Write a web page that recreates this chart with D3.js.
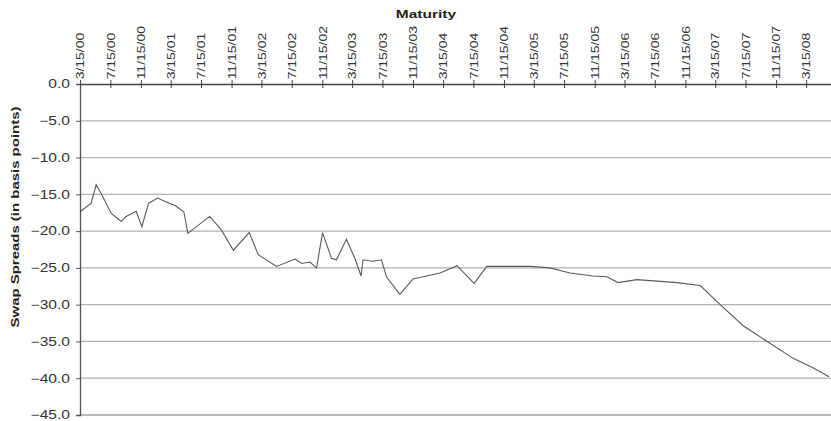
<!DOCTYPE html>
<html><head><meta charset="utf-8">
<script src="https://cdn.jsdelivr.net/npm/d3@7"></script>
<style>body{margin:0;background:#fff;} svg{display:block;font-family:Arial,"Liberation Sans",sans-serif;}</style>
</head><body>
<svg id="c" width="831" height="421"></svg>
<script>
const tickLabels = ["3/15/00","7/15/00","11/15/00","3/15/01","7/15/01","11/15/01","3/15/02","7/15/02","11/15/02","3/15/03","7/15/03","11/15/03","3/15/04","7/15/04","11/15/04","3/15/05","7/15/05","11/15/05","3/15/06","7/15/06","11/15/06","3/15/07","7/15/07","11/15/07","3/15/08"];
const yTicks = [0,-5,-10,-15,-20,-25,-30,-35,-40,-45];
const dates = ["2000-03-18","2000-04-29","2000-05-19","2000-06-08","2000-07-19","2000-08-28","2000-09-16","2000-10-27","2000-11-19","2000-12-16","2001-01-22","2001-02-16","2001-04-05","2001-05-07","2001-05-23","2001-08-19","2001-10-04","2001-11-22","2002-01-25","2002-03-02","2002-05-15","2002-07-28","2002-08-24","2002-09-26","2002-10-23","2002-11-16","2002-12-22","2003-01-11","2003-02-20","2003-03-26","2003-04-20","2003-04-28","2003-06-07","2003-07-11","2003-07-31","2003-09-23","2003-11-15","2004-03-03","2004-05-10","2004-07-18","2004-09-07","2004-10-17","2005-02-28","2005-05-19","2005-08-08","2005-11-08","2006-01-03","2006-02-17","2006-05-04","2006-10-12","2007-01-14","2007-04-04","2007-07-07","2007-10-15","2008-01-23","2008-04-13","2008-06-15"];
const spreads = [-17.3,-16.2,-13.7,-14.9,-17.6,-18.7,-18.0,-17.3,-19.4,-16.2,-15.5,-15.9,-16.6,-17.4,-20.3,-18.0,-19.8,-22.6,-20.2,-23.2,-24.8,-23.8,-24.4,-24.2,-25.0,-20.2,-23.7,-23.9,-21.1,-23.7,-26.1,-23.9,-24.1,-23.9,-26.2,-28.6,-26.5,-25.7,-24.7,-27.1,-24.8,-24.8,-24.8,-25.0,-25.7,-26.1,-26.2,-27.0,-26.6,-27.0,-27.4,-30.0,-32.9,-35.1,-37.3,-38.6,-39.8];

const parseIso = d3.timeParse("%Y-%m-%d");
const parseTick = d3.timeParse("%m/%d/%y");
const fmtTick = d3.timeFormat("%-m/%d/%y");
const data = dates.map((d,i)=>({date:parseIso(d), v:spreads[i]}));
const tickDates = tickLabels.map(parseTick);

const svg = d3.select("#c");
const L = 80, R = 831, T = 84, B = 415;
const x = d3.scaleTime().domain([parseTick("3/15/00"), parseIso("2008-06-23")]).range([L, R]);
const y = d3.scaleLinear().domain([0,-45]).range([T, B]);

// gridlines
svg.append("g").selectAll("line").data(yTicks.filter(t=>t!==0)).join("line")
  .attr("x1", L).attr("x2", R).attr("y1", d=>y(d)).attr("y2", d=>y(d))
  .attr("stroke", d=> d===-45 ? "#777" : "#b0b0b0").attr("stroke-width", 1.2);

// y axis
const ya = svg.append("g").attr("transform", `translate(${L},0)`)
  .call(d3.axisLeft(y).tickValues(yTicks).tickSize(4).tickFormat(""));
ya.select(".domain").attr("stroke","#555").attr("stroke-width",1.3);
ya.selectAll(".tick line").attr("stroke","#555");
svg.append("g").selectAll("text").data(yTicks).join("text")
  .attr("transform", d=>`translate(70,${y(d)}) scale(1.3,1)`)
  .attr("text-anchor","end").attr("dy","0.36em")
  .attr("font-size","12px").attr("fill","#333")
  .text(d=>d3.format(".1f")(d));

// x axis top
const xa = svg.append("g").attr("transform", `translate(0,${T})`)
  .call(d3.axisTop(x).tickValues(tickDates).tickSizeInner(4).tickSizeOuter(0).tickFormat(fmtTick));
xa.select(".domain").attr("stroke","#444").attr("stroke-width",1.3);
xa.selectAll(".tick line").attr("y2", 4).attr("y1",-4).attr("stroke","#444");
xa.selectAll(".tick text")
  .attr("transform","rotate(-90) scale(1.33,1)")
  .attr("x", 3.5).attr("y", 0).attr("dy","0.36em")
  .attr("text-anchor","start").attr("font-size","10.5px").attr("fill","#333");

// line
svg.append("path").datum(data)
  .attr("fill","none").attr("stroke","#5a5a5a").attr("stroke-width",1.1)
  .attr("d", d3.line().x(d=>x(d.date)).y(d=>y(d.v)));

// titles
svg.append("text").attr("transform","translate(426,18) scale(1.35,1)")
  .attr("text-anchor","middle").attr("font-weight","bold").attr("font-size","11.5px").attr("fill","#222")
  .text("Maturity");
svg.append("text").attr("transform","translate(19,217) rotate(-90) scale(1.3,1)")
  .attr("text-anchor","middle").attr("font-weight","bold").attr("font-size","11.5px").attr("fill","#222")
  .text("Swap Spreads (in basis points)");
</script>
</body></html>
